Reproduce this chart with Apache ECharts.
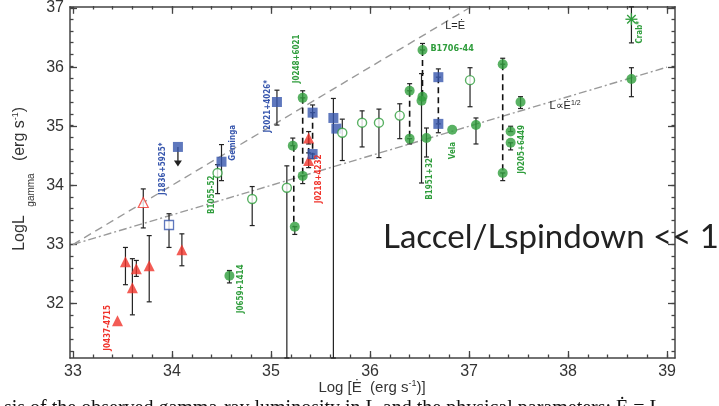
<!DOCTYPE html>
<html>
<head>
<meta charset="utf-8">
<script src="https://cdn.jsdelivr.net/npm/echarts@6/dist/echarts.min.js"></script>
<style>
  html, body { margin: 0; padding: 0; background: #fff; }
  #chart { width: 719px; height: 406px; }
</style>
</head>
<body>
<div id="chart"></div>
<script>
// tick values
const xMajor = [33, 34, 35, 36, 37, 38, 39];
const yMajor = [32, 33, 34, 35, 36, 37];
const xMinor = [];
for (let v = 332; v <= 390; v += 2) xMinor.push(v / 10);
const yMinor = [];
for (let v = 312; v <= 370; v += 2) yMinor.push(v / 10);

// points: [log Edot, log Lgamma, err low, err high]  (null = no bar)
const redTri = [
  [33.45, 31.71, null, null],
  [33.53, 32.71, 32.32, 32.95],
  [33.60, 32.27, 31.81, 32.76],
  [33.64, 32.59, 32.46, 32.73],
  [33.77, 32.64, 32.03, 33.15],
  [34.10, 32.91, 32.64, 33.18],
  [35.38, 34.80, 34.70, 34.91],
  [35.38, 34.42, 34.30, 34.55]
];
const redOpenTri = [
  [33.71, 33.71, 33.28, 33.94]
];
const blueSq = [
  [34.50, 34.40, 34.08, 34.69],
  [35.06, 35.41, 35.02, 35.61],
  [35.42, 35.23, 35.23, 35.36],
  [35.42, 34.53, 34.45, 34.53],
  [35.63, 35.14, 31.08, 35.47],
  [35.66, 34.96, null, null],
  [36.69, 35.83, 35.83, 35.97],
  [36.69, 35.04, 34.89, 35.04]
];
const blueUpper = [
  [34.06, 34.65, 34.32]
];
const blueOpenSq = [
  [33.97, 33.33, 32.95, 33.52]
];
const greenDot = [
  [34.58, 32.47, 32.35, 32.56],
  [35.22, 34.67, 34.67, 34.80],
  [35.24, 33.30, 33.17, 33.30],
  [35.32, 35.48, 35.48, 35.60],
  [35.32, 34.16, 34.03, 34.16],
  [36.53, 36.29, 36.29, 36.40],
  [36.52, 35.43, 34.04, 35.89],
  [36.53, 35.50, null, null],
  [36.40, 35.60, 35.60, 35.72],
  [36.40, 34.79, 34.70, 34.79],
  [36.57, 34.80, 34.48, 34.97],
  [36.83, 34.94, null, null],
  [37.07, 35.02, 34.70, 35.14],
  [37.34, 36.05, 36.05, 36.15],
  [37.34, 34.21, 34.08, 34.21],
  [37.42, 34.91, 34.91, 35.00],
  [37.42, 34.72, 34.60, 34.72],
  [37.52, 35.41, 35.30, 35.50],
  [38.64, 35.80, 35.50, 35.99]
];
const greenOpen = [
  [34.46, 34.21, 33.86, 34.35],
  [34.81, 33.77, 33.32, 33.98],
  [35.16, 33.96, 31.08, 34.33],
  [35.72, 34.89, 34.42, 35.12],
  [35.92, 35.06, 34.65, 35.26],
  [36.09, 35.06, 34.47, 35.29],
  [36.30, 35.18, 34.79, 35.38],
  [37.01, 35.78, 35.33, 35.99]
];
const crab = [
  [38.64, 36.81, 36.41, 37.02]
];
// dashed connectors: [log Edot, y top, y bottom]
const connectors = [
  [35.23, 34.67, 33.30],
  [35.32, 35.48, 34.16],
  [35.38, 34.80, 34.42],
  [35.42, 35.23, 34.53],
  [36.53, 36.29, 35.45],
  [36.40, 35.60, 34.79],
  [36.69, 35.83, 35.04],
  [37.34, 36.05, 34.21]
];
// reference lines
const lineEq = [[33, 33], [37, 37]];
const lineHalf = [[33, 33], [39, 36]];

// source names: [x, y, text, group, vertical]
const names = [
  [33.35, 31.59, 'J0437-4715', 'r', 1],
  [33.91, 34.28, 'J1836+5925*', 'b', 1],
  [34.62, 34.72, 'Geminga', 'b', 1],
  [34.40, 33.84, 'B1055-52', 'g', 1],
  [34.70, 32.25, 'J0659+1414', 'g', 1],
  [34.97, 35.34, 'J2021+4026*', 'b', 1],
  [35.26, 36.14, 'J0248+6021', 'g', 1],
  [35.48, 34.11, 'J0218+4232', 'r', 1],
  [36.60, 34.11, 'B1951+32', 'g', 1],
  [36.84, 34.59, 'Vela', 'g', 1],
  [37.53, 34.61, 'J0205+6449', 'g', 1],
  [38.73, 36.59, 'Crab*', 'g', 1]
];

const RED = '#f0332b';
const BLUE = '#3756ad';
const GREEN = '#2f9d3c';
const INK = '#222';
const colorOf = {r: RED, b: BLUE, g: GREEN};

const allBars = [].concat(redTri, redOpenTri, blueSq, blueOpenSq, greenDot, greenOpen, crab)
  .filter(d => d[2] !== null)
  .map(d => [d[0], d[2], d[3]]);

function baseX(pos, ticks, len, gridIndex, labels) {
  return {
    type: 'value', gridIndex: gridIndex, position: pos,
    min: 32.97, max: 39.08,
    axisLine: {show: gridIndex === 0, onZero: false, lineStyle: {color: '#444', width: 1.5}},
    axisTick: {show: true, inside: true, length: len, customValues: ticks, lineStyle: {color: '#444', width: 1.3}},
    axisLabel: labels ? {show: true, customValues: xMajor, color: '#333', fontSize: 16, margin: 6,
      fontFamily: '"Liberation Sans", Arial, sans-serif'} : {show: false},
    splitLine: {show: false}
  };
}
function baseY(pos, ticks, len, gridIndex, labels) {
  return {
    type: 'value', gridIndex: gridIndex, position: pos,
    min: 31.08, max: 37.02,
    axisLine: {show: gridIndex === 0, onZero: false, lineStyle: {color: '#444', width: 1.5}},
    axisTick: {show: true, inside: true, length: len, customValues: ticks, lineStyle: {color: '#444', width: 1.3}},
    axisLabel: labels ? {show: true, customValues: yMajor, color: '#333', fontSize: 16, margin: 6,
      fontFamily: '"Liberation Sans", Arial, sans-serif'} : {show: false},
    splitLine: {show: false}
  };
}

const chart = echarts.init(document.getElementById('chart'));

chart.setOption({
  animation: false,
  backgroundColor: '#fff',
  grid: [
    {left: 70, top: 6, right: 44, bottom: 48},
    {left: 70, top: 6, right: 44, bottom: 48}
  ],
  xAxis: [
    baseX('bottom', xMajor, 7, 0, true),
    baseX('top', xMajor, 7, 0, false),
    baseX('bottom', xMinor, 3.5, 1, false),
    baseX('top', xMinor, 3.5, 1, false)
  ],
  yAxis: [
    baseY('left', yMajor, 7, 0, true),
    baseY('right', yMajor, 7, 0, false),
    baseY('left', yMinor, 3.5, 1, false),
    baseY('right', yMinor, 3.5, 1, false)
  ],
  graphic: [
    {type: 'text', x: 20, y: 233, rotation: Math.PI / 2,
      style: {text: 'LogL', font: '16px "Liberation Sans", Arial, sans-serif', fill: '#333', align: 'center', verticalAlign: 'middle'}},
    {type: 'text', x: 31, y: 190, rotation: Math.PI / 2,
      style: {text: 'gamma', font: '10px "Liberation Sans", Arial, sans-serif', fill: '#333', align: 'center', verticalAlign: 'middle'}},
    {type: 'text', x: 20, y: 134, rotation: Math.PI / 2,
      style: {
        text: '{a|(erg s}{s|-1}{a|)}', align: 'center', verticalAlign: 'middle',
        rich: {
          a: {font: '16px "Liberation Sans", Arial, sans-serif', fill: '#333', verticalAlign: 'middle', lineHeight: 18},
          s: {font: '9px "Liberation Sans", Arial, sans-serif', fill: '#333', verticalAlign: 'top', lineHeight: 18}
        }
      }},
    {type: 'text', x: 372, y: 388,
      style: {
        text: '{a|Log [Ė  (erg s}{s|-1}{a|)]}', align: 'center', verticalAlign: 'middle',
        rich: {
          a: {font: '15px "Liberation Sans", Arial, sans-serif', fill: '#333', verticalAlign: 'middle', lineHeight: 18},
          s: {font: '9px "Liberation Sans", Arial, sans-serif', fill: '#333', verticalAlign: 'top', lineHeight: 18}
        }
      }},
    {type: 'text', left: 383, top: 221, z: 100,
      style: {text: 'Laccel/Lspindown << 1', font: '33px Lato, "Open Sans", sans-serif', fill: '#222'}},
    {type: 'text', left: 4, top: 399,
      style: {text: 'sis of the observed gamma-ray luminosity in L and the physical parameters: Ė = L',
        font: '20px "Liberation Serif", serif', fill: '#111'}}
  ],
  series: [
    {
      type: 'line', data: lineEq, xAxisIndex: 0, yAxisIndex: 0, showSymbol: false, silent: true, z: 1,
      lineStyle: {color: '#9a9a9a', width: 1.4, type: [8, 5]}
    },
    {
      type: 'line', data: lineHalf, xAxisIndex: 0, yAxisIndex: 0, showSymbol: false, silent: true, z: 1,
      lineStyle: {color: '#9a9a9a', width: 1.4, type: [8, 3, 2, 3]}
    },
    {
      type: 'custom', data: connectors, xAxisIndex: 0, yAxisIndex: 0, z: 2,
      renderItem: (params, api) => {
        const a = api.coord([api.value(0), api.value(1)]);
        const b = api.coord([api.value(0), api.value(2)]);
        return {type: 'line', shape: {x1: a[0], y1: a[1], x2: b[0], y2: b[1]},
          style: {stroke: '#111', lineWidth: 1.6, lineDash: [6, 4]}};
      }
    },
    {
      type: 'custom', data: allBars, xAxisIndex: 0, yAxisIndex: 0, z: 3,
      renderItem: (params, api) => {
        const a = api.coord([api.value(0), api.value(1)]);
        const b = api.coord([api.value(0), api.value(2)]);
        const w = 2.5;
        const st = {stroke: INK, lineWidth: 1.2};
        return {type: 'group', children: [
          {type: 'line', shape: {x1: a[0], y1: a[1], x2: b[0], y2: b[1]}, style: st},
          {type: 'line', shape: {x1: a[0] - w, y1: a[1], x2: a[0] + w, y2: a[1]}, style: st},
          {type: 'line', shape: {x1: b[0] - w, y1: b[1], x2: b[0] + w, y2: b[1]}, style: st}
        ]};
      }
    },
    {
      type: 'custom', data: blueUpper, xAxisIndex: 0, yAxisIndex: 0, z: 3,
      renderItem: (params, api) => {
        const a = api.coord([api.value(0), api.value(1)]);
        const b = api.coord([api.value(0), api.value(2)]);
        return {type: 'group', children: [
          {type: 'line', shape: {x1: a[0], y1: a[1], x2: b[0], y2: b[1] - 5}, style: {stroke: INK, lineWidth: 1.3}},
          {type: 'polygon', shape: {points: [[b[0] - 4, b[1] - 6], [b[0] + 4, b[1] - 6], [b[0], b[1]]]}, style: {fill: INK}}
        ]};
      }
    },
    {
      type: 'scatter', data: redTri, xAxisIndex: 0, yAxisIndex: 0, z: 5,
      symbol: 'triangle', symbolSize: 11, itemStyle: {color: RED}
    },
    {
      type: 'scatter', data: redOpenTri, xAxisIndex: 0, yAxisIndex: 0, z: 5,
      symbol: 'triangle', symbolSize: 10, itemStyle: {color: '#fff', borderColor: RED, borderWidth: 1.2}
    },
    {
      type: 'scatter', data: blueSq.concat(blueUpper.map(d => [d[0], d[1]])), xAxisIndex: 0, yAxisIndex: 0, z: 5,
      symbol: 'rect', symbolSize: 10, itemStyle: {color: BLUE}
    },
    {
      type: 'scatter', data: blueOpenSq, xAxisIndex: 0, yAxisIndex: 0, z: 5,
      symbol: 'rect', symbolSize: 9, itemStyle: {color: '#fff', borderColor: BLUE, borderWidth: 1.3}
    },
    {
      type: 'scatter', data: greenDot, xAxisIndex: 0, yAxisIndex: 0, z: 5,
      symbol: 'circle', symbolSize: 10, itemStyle: {color: GREEN}
    },
    {
      type: 'scatter', data: greenOpen, xAxisIndex: 0, yAxisIndex: 0, z: 5,
      symbol: 'circle', symbolSize: 9, itemStyle: {color: '#fff', borderColor: GREEN, borderWidth: 1.4}
    },
    {
      type: 'custom', data: crab, xAxisIndex: 0, yAxisIndex: 0, z: 6,
      renderItem: (params, api) => {
        const p = api.coord([api.value(0), api.value(1)]);
        const r = 6;
        const kids = [0, 45, 90, 135].map(deg => {
          const t = deg * Math.PI / 180;
          return {type: 'line', shape: {x1: p[0] - r * Math.cos(t), y1: p[1] - r * Math.sin(t),
            x2: p[0] + r * Math.cos(t), y2: p[1] + r * Math.sin(t)}, style: {stroke: GREEN, lineWidth: 1.3}};
        });
        return {type: 'group', children: kids};
      }
    },
    {
      type: 'custom', data: names.map(n => [n[0], n[1]]), xAxisIndex: 0, yAxisIndex: 0, z: 7,
      renderItem: (params, api) => {
        const p = api.coord([api.value(0), api.value(1)]);
        const n = names[params.dataIndex];
        return {type: 'text', x: p[0], y: p[1], rotation: n[4] ? Math.PI / 2 : 0,
          style: {text: n[2], fill: colorOf[n[3]], align: 'center', verticalAlign: 'middle',
            font: 'bold 8px "Liberation Sans Narrow", "DejaVu Sans Condensed", sans-serif'}};
      }
    },
    {
      type: 'custom', data: [[36.61, 36.31]], xAxisIndex: 0, yAxisIndex: 0, z: 7,
      renderItem: (params, api) => {
        const p = api.coord([api.value(0), api.value(1)]);
        return {type: 'text', x: p[0], y: p[1],
          style: {text: 'B1706-44', fill: GREEN, align: 'left', verticalAlign: 'middle',
            font: 'bold 9px "Liberation Sans Narrow", "DejaVu Sans Condensed", sans-serif'}};
      }
    },
    {
      type: 'custom', data: [[36.86, 36.70], [37.97, 35.34]], xAxisIndex: 0, yAxisIndex: 0, z: 7,
      renderItem: (params, api) => {
        const p = api.coord([api.value(0), api.value(1)]);
        const txt = params.dataIndex === 0 ? '{a|L=Ė}' : '{a|L∝Ė}{s|1/2}';
        return {type: 'text', x: p[0], y: p[1],
          style: {text: txt, align: 'center', verticalAlign: 'middle',
            rich: {
              a: {font: '11px "Liberation Sans", Arial, sans-serif', fill: '#222', verticalAlign: 'middle', lineHeight: 14},
              s: {font: '7px "Liberation Sans", Arial, sans-serif', fill: '#222', verticalAlign: 'top', lineHeight: 14}
            }}};
      }
    }
  ]
});
</script>
</body>
</html>
